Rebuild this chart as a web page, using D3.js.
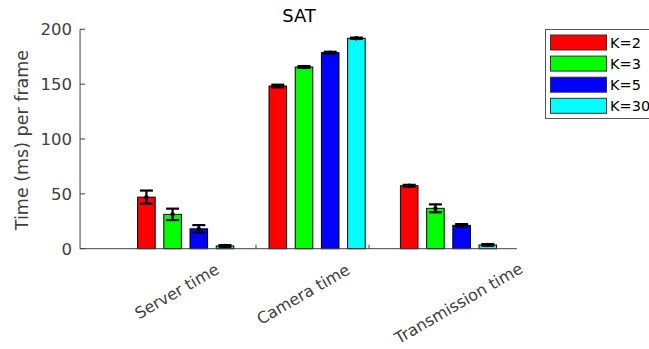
<!DOCTYPE html>
<html><head><meta charset="utf-8">
<script src="https://cdn.jsdelivr.net/npm/d3@7"></script>
<style>body{margin:0;background:#fff}svg{display:block}text{font-family:"DejaVu Sans",sans-serif}</style>
</head><body>
<script>
const categories = ["Server time", "Camera time", "Transmission time"];
const series = ["K=2", "K=3", "K=5", "K=30"];
const colors = ["#ff0000", "#00ff00", "#0000ff", "#00ffff"];
const valK2  = [47, 148.3, 57.4];
const valK3  = [31.3, 165.6, 36.8];
const valK5  = [18.1, 178.7, 21.3];
const valK30 = [2.5, 191.8, 3.4];
const errK2  = [6, 1.2, 0.8];
const errK3  = [5.2, 0.8, 3.6];
const errK5  = [3.4, 0.8, 1.1];
const errK30 = [0.8, 0.6, 0.8];
const yTicks = [0, 50, 100, 150, 200];
const xMinorTicks = [1.535, 2.395];
const title = "SAT";
const yLabel = "Time (ms) per frame";

const values = [valK2, valK3, valK5, valK30];
const errs = [errK2, errK3, errK5, errK30];

const W = 649, H = 349;
const svg = d3.select("body").append("svg").attr("width", W).attr("height", H);

const xLin = d3.scaleLinear().domain([1, 3]).range([185.7, 448.5]);
const xDomain = [0.196, 3.52];
const y = d3.scaleLinear().domain([0, 200]).range([248.7, 29.3]);
const inner = d3.scaleBand().domain(series).range([-52.4, 52.4]).paddingInner(0.33).paddingOuter(0.165);

const axisColor = "#404040";

// bars
categories.forEach((c, ci) => {
  series.forEach((s, si) => {
    const v = values[si][ci];
    const x0 = xLin(ci + 1) + inner(s);
    const bw = inner.bandwidth();
    svg.append("rect").attr("x", x0).attr("y", y(v)).attr("width", bw).attr("height", y(0) - y(v))
      .attr("fill", colors[si]).attr("stroke", "#000").attr("stroke-width", 1);
  });
});
// error bars
categories.forEach((c, ci) => {
  series.forEach((s, si) => {
    const v = values[si][ci], e = errs[si][ci];
    const cx = xLin(ci + 1) + inner(s) + inner.bandwidth() / 2;
    const g = svg.append("g").attr("stroke", "#000").attr("stroke-width", 2.2);
    g.append("line").attr("x1", cx).attr("x2", cx).attr("y1", y(v + e)).attr("y2", y(v - e));
    g.append("line").attr("x1", cx - 6.5).attr("x2", cx + 6.5).attr("y1", y(v + e)).attr("y2", y(v + e));
    g.append("line").attr("x1", cx - 6.5).attr("x2", cx + 6.5).attr("y1", y(v - e)).attr("y2", y(v - e));
    svg.append("circle").attr("cx", cx).attr("cy", y(v)).attr("r", 2.2).attr("fill", "#000");
  });
});

// axes
svg.append("line").attr("x1", xLin(xDomain[0])).attr("x2", xLin(xDomain[0]))
  .attr("y1", y(200)).attr("y2", y(0)).attr("stroke", axisColor).attr("stroke-width", 1);
svg.append("line").attr("x1", xLin(xDomain[0])).attr("x2", xLin(xDomain[1]))
  .attr("y1", y(0)).attr("y2", y(0)).attr("stroke", axisColor).attr("stroke-width", 1);
yTicks.forEach(t => {
  svg.append("line").attr("x1", xLin(xDomain[0])).attr("x2", xLin(xDomain[0]) + 5)
    .attr("y1", y(t)).attr("y2", y(t)).attr("stroke", axisColor);
  svg.append("text").attr("x", xLin(xDomain[0]) - 8).attr("y", y(t)).attr("dy", "0.36em")
    .attr("text-anchor", "end").attr("font-size", 16.5).attr("fill", "#404040").text(t);
});
xMinorTicks.forEach(t => {
  svg.append("line").attr("x1", xLin(t)).attr("x2", xLin(t)).attr("y1", y(0)).attr("y2", y(0) - 4)
    .attr("stroke", axisColor);
});

// category labels (rotated)
const labDx = [-9, -14, 10], labY = [291, 294, 303];
categories.forEach((c, ci) => {
  const lx = xLin(ci + 1) + labDx[ci], ly = labY[ci];
  svg.append("text").attr("transform", `translate(${lx},${ly}) rotate(-30)`)
    .attr("text-anchor", "middle").attr("dy", "0.36em").attr("font-size", 16)
    .attr("fill", "#404040").text(c);
});

// y label
svg.append("text").attr("transform", `translate(28,${(y(0) + y(200)) / 2 + 1}) rotate(-90)`)
  .attr("text-anchor", "middle").attr("font-size", 17.5).attr("fill", "#404040").text(yLabel);

// title
svg.append("text").attr("x", 299).attr("y", 22).attr("text-anchor", "middle")
  .attr("font-size", 18).attr("fill", "#000").text(title);

// legend
const lg = svg.append("g");
lg.append("rect").attr("x", 545.5).attr("y", 29.5).attr("width", 120).attr("height", 89)
  .attr("fill", "#fff").attr("stroke", "#555");
series.forEach((s, si) => {
  const ry = 35 + si * 21.1;
  lg.append("rect").attr("x", 550.5).attr("y", ry).attr("width", 56).attr("height", 15)
    .attr("fill", colors[si]).attr("stroke", "#333");
  lg.append("text").attr("x", 610).attr("y", ry + 7.5).attr("dy", "0.36em").attr("font-size", 14.5)
    .attr("fill", "#000").text(s);
});
</script>
</body></html>
